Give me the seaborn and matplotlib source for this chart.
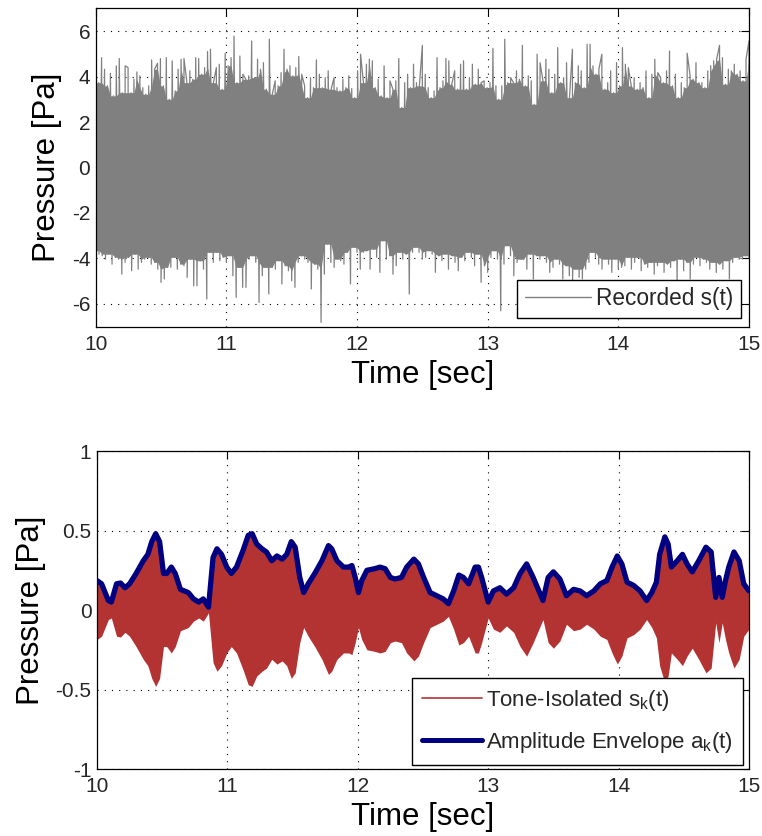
import numpy as np
import pandas as pd
import matplotlib
matplotlib.use("Agg")
import matplotlib.pyplot as plt
from matplotlib.lines import Line2D
import seaborn as sns

# ---------------- data ----------------
# Top panel: recorded pressure s(t), upper and lower excursions (Pa), 10..15 s
upper_peaks = [
    4.9, 3.73, 4.83, 4.32, 3.59, 4.14, 3.15, 4.47, 4.79, 3.29, 4.47, 4.39, 3.29, 3.88, 4.2, 4.03,
    3.51, 3.22, 3.59, 4.73, 4.32, 4.58, 4.79, 3.59, 4.83, 3.0, 4.69, 3.37, 4.32, 4.76, 4.79, 3.73,
    4.25, 3.88, 4.83, 4.79, 4.1, 4.39, 5.1, 5.2, 3.73, 4.39, 4.54, 3.44, 5.02, 4.47, 4.83, 5.78,
    3.73, 4.9, 4.1, 3.88, 4.03,
    5.56, 3.95, 4.76, 4.32, 4.61, 3.44, 5.64, 3.22, 3.81, 3.59, 4.17, 5.2, 4.32, 4.47, 4.03, 4.39,
    4.88, 4.1, 3.59, 3.07, 3.95, 3.51, 4.73, 4.1, 3.51, 3.95, 4.25, 3.44, 3.95, 3.51, 3.37, 3.88,
    3.51, 4.03, 3.47, 3.07, 4.25, 4.98, 3.73, 4.54, 4.76, 4.69, 3.51, 3.88, 3.15, 4.47, 3.07, 3.81,
    3.44, 3.81, 4.79, 2.64, 3.73, 4.1, 3.51, 4.54,
    3.73, 3.59, 5.37, 4.1, 3.51, 3.07, 3.37, 4.83, 3.51, 3.81, 4.79, 4.69, 3.66, 4.25, 3.44, 4.54,
    4.69, 3.44, 3.95, 4.54, 3.66, 4.32, 3.73, 3.81, 3.51, 3.73, 5.24, 3.59, 3.0, 3.59, 5.64, 3.73,
    3.95, 3.73, 4.25, 3.88, 5.37, 3.59, 4.03, 3.81, 2.78, 4.98, 4.61, 3.81, 4.76, 4.32, 3.29, 4.1,
    5.27, 3.73, 3.95, 4.61, 3.07, 5.2, 3.73, 4.47, 4.25, 3.51, 5.42,
    5.42, 4.47, 4.1, 4.32, 4.98, 3.44, 3.73, 4.25, 3.29, 4.61, 3.59, 5.27, 4.54, 4.39, 3.59, 3.95,
    3.44, 3.73, 3.51, 4.25, 3.07, 4.1, 4.76, 4.17, 3.95, 3.73, 4.25, 5.12, 3.59, 4.1, 3.07, 3.73,
    3.51, 5.02, 4.03, 3.88, 4.61, 3.73, 3.73, 3.51, 4.25, 4.47, 4.69, 4.76, 5.37, 4.83, 3.66, 4.32,
    4.25, 4.54, 4.1, 4.25, 3.81, 4.76, 5.56,
]
lower_peaks = [
    -3.66, -3.81, -3.88, -4.03, -3.81, -4.25, -3.95, -4.03, -4.69, -4.17, -3.95, -4.54, -3.81,
    -4.47, -4.17, -4.03, -3.95, -4.25, -4.17, -4.47, -5.05, -4.9, -4.39, -4.39, -3.95, -4.47,
    -4.25, -4.32, -4.83, -4.03, -5.2, -5.2, -4.1, -4.47, -5.78, -3.73, -4.17, -3.73, -4.1, -3.95,
    -4.17, -3.88, -4.76, -5.71, -4.39, -5.27, -5.27, -4.03, -3.88,
    -4.17, -5.93, -4.76, -4.39, -5.56, -4.39, -4.47, -4.1, -5.12, -4.32, -4.54, -4.98, -5.27,
    -4.17, -3.88, -4.03, -4.17, -5.34, -4.25, -4.47, -6.81, -4.69, -3.37, -4.17, -4.39, -4.03,
    -4.1, -4.25, -3.73, -5.12, -3.51, -3.73, -4.47, -3.73, -3.66, -4.47, -3.59, -3.95, -4.61,
    -3.22, -4.03, -3.88, -4.69, -4.32, -3.73, -4.03, -3.81, -5.56, -3.73, -3.51, -3.73, -4.03,
    -3.95,
    -3.66, -3.81, -4.61, -3.88, -4.1, -3.81, -4.47, -3.88, -4.17, -4.54, -3.95, -4.1, -3.73,
    -3.95, -4.32, -3.81, -5.05, -4.32, -4.61, -3.95, -3.66, -4.03, -6.3, -4.25, -3.44, -3.88,
    -4.76, -4.17, -4.03, -4.03, -4.47, -3.81, -4.9, -3.88, -4.03, -3.88, -4.17, -4.61, -4.39,
    -4.03, -4.25, -4.9, -4.32, -4.76, -4.98, -4.47, -4.83, -4.9, -4.47, -4.17,
    -3.73, -3.95, -4.25, -4.47, -4.03, -4.25, -4.61, -4.03, -4.47, -4.39, -4.32, -3.95, -4.47,
    -4.17, -3.95, -4.54, -4.25, -4.39, -4.17, -4.69, -4.32, -4.17, -4.61, -4.25, -4.39, -4.1,
    -5.05, -4.03, -4.54, -4.17, -4.9, -4.25, -3.95, -4.32, -4.03, -4.17, -4.47, -4.17, -4.61,
    -4.25, -4.47, -4.1, -4.9, -4.17, -3.95, -4.03, -4.03, -3.88, -3.95,
]

# Bottom panel: amplitude envelope a_k(t) of the tone-isolated signal
env_time = [
    10.0, 10.035, 10.087, 10.11, 10.15, 10.18, 10.215, 10.25, 10.30, 10.355,
    10.39, 10.42, 10.45, 10.48, 10.51, 10.535, 10.57, 10.60, 10.64, 10.70,
    10.74, 10.78, 10.815, 10.855, 10.89, 10.92, 10.955, 10.995, 11.03, 11.07,
    11.12, 11.16, 11.19, 11.225, 11.265, 11.30, 11.34, 11.38, 11.42, 11.455,
    11.49, 11.52, 11.555, 11.585, 11.62, 11.67, 11.725, 11.775, 11.80, 11.84,
    11.89, 11.93, 11.955, 11.98, 12.005, 12.03, 12.07, 12.13, 12.17, 12.21,
    12.25, 12.285, 12.335, 12.375, 12.43, 12.465, 12.505, 12.555, 12.605, 12.655,
    12.695, 12.735, 12.775, 12.81, 12.85, 12.90, 12.925, 12.95, 13.0, 13.04,
    13.09, 13.14, 13.195, 13.245, 13.295, 13.345, 13.42, 13.46, 13.50, 13.55,
    13.60, 13.655, 13.705, 13.755, 13.81, 13.86, 13.91, 13.95, 13.99, 14.025,
    14.065, 14.115, 14.165, 14.215, 14.255, 14.29, 14.315, 14.355, 14.38, 14.405,
    14.45, 14.49, 14.525, 14.565, 14.615, 14.67, 14.71, 14.745, 14.77, 14.795,
    14.82, 14.845, 14.885, 14.925, 14.96, 15.0,
]
env_amp = [
    0.185, 0.165, 0.06, 0.05, 0.165, 0.17, 0.14, 0.165, 0.23, 0.31,
    0.35, 0.43, 0.48, 0.43, 0.23, 0.23, 0.27, 0.23, 0.13, 0.11,
    0.07, 0.05, 0.07, 0.018, 0.33, 0.385, 0.35, 0.27, 0.23, 0.27,
    0.375, 0.47, 0.48, 0.415, 0.385, 0.365, 0.31, 0.34, 0.32, 0.35,
    0.43, 0.395, 0.205, 0.11, 0.165, 0.23, 0.31, 0.405, 0.385, 0.31,
    0.27, 0.27, 0.28, 0.205, 0.11, 0.185, 0.25, 0.26, 0.27, 0.26,
    0.205, 0.195, 0.205, 0.27, 0.32, 0.29, 0.205, 0.11, 0.09, 0.07,
    0.04, 0.12, 0.22, 0.205, 0.165, 0.27, 0.27, 0.205, 0.05, 0.12,
    0.14, 0.10, 0.14, 0.23, 0.29, 0.205, 0.06, 0.205, 0.24, 0.195,
    0.09, 0.13, 0.12, 0.09, 0.12, 0.165, 0.185, 0.27, 0.34, 0.29,
    0.175, 0.155, 0.12, 0.06, 0.11, 0.175, 0.35, 0.46, 0.415, 0.27,
    0.31, 0.35, 0.29, 0.24, 0.31, 0.395, 0.365, 0.08, 0.205, 0.08,
    0.185, 0.27, 0.365, 0.31, 0.165, 0.12,
]

x_ticks = [10, 11, 12, 13, 14, 15]
top_yticks = [-6, -4, -2, 0, 2, 4, 6]
bot_yticks = [-1, -0.5, 0, 0.5, 1]
bot_ytick_labels = ["-1", "-0.5", "0", "0.5", "1"]
top_label = "Recorded s(t)"
bot_labels = [r"Tone-Isolated s$_{\mathrm{k}}$(t)", r"Amplitude Envelope a$_{\mathrm{k}}$(t)"]

# ---------------- style ----------------
sns.set_theme(style="white")
plt.rcParams["font.family"] = ["Liberation Sans", "DejaVu Sans"]
plt.rcParams["mathtext.fontset"] = "custom"
plt.rcParams["mathtext.rm"] = "Liberation Sans"
plt.rcParams["mathtext.it"] = "Liberation Sans"
plt.rcParams["axes.unicode_minus"] = False

GRAY = "#808080"
RED = "#B33333"
NAVY = "#000080"

fig = plt.figure(figsize=(7.62, 8.36), dpi=100)
ax1 = fig.add_axes([0.1256, 0.6092, 0.8573, 0.3809])
ax2 = fig.add_axes([0.1273, 0.0801, 0.8556, 0.3804])

# ---------------- top panel ----------------
t_up = np.linspace(10, 15, len(upper_peaks))
t_lo = np.linspace(10, 15, len(lower_peaks))
# dense core of the oscillation: local minimum excursion of neighbouring samples
core_up = pd.Series(upper_peaks).rolling(3, center=True, min_periods=1).min().to_numpy()
core_lo = pd.Series(lower_peaks).rolling(3, center=True, min_periods=1).max().to_numpy()
ax1.fill_between(t_up, 0, core_up, color=GRAY, lw=0, zorder=2)
ax1.fill_between(t_lo, core_lo, 0, color=GRAY, lw=0, zorder=2)

df_top = pd.DataFrame({
    "t": np.concatenate([t_up, t_lo]),
    "p": np.concatenate([upper_peaks, lower_peaks]),
}).sort_values("t", kind="stable").reset_index(drop=True)
sns.lineplot(data=df_top, x="t", y="p", sort=False, estimator=None,
             color=GRAY, lw=0.9, ax=ax1, legend=False, zorder=2)

# ---------------- bottom panel ----------------
env_t = np.array(env_time)
env_a = np.array(env_amp)
ax2.fill_between(env_t, -env_a, env_a, color=RED, lw=0, zorder=2)
df_env = pd.DataFrame({"t": env_t, "a": env_a})
sns.lineplot(data=df_env, x="t", y="a", sort=False, estimator=None,
             color=NAVY, lw=3.8, ax=ax2, legend=False, zorder=3)

# ---------------- axes formatting ----------------
for ax in (ax1, ax2):
    ax.set_xlim(10, 15)
    ax.set_xticks(x_ticks)
    ax.set_xticklabels([str(v) for v in x_ticks])
    ax.grid(True, color="black", linestyle=(0, (1, 5.5)), lw=0.8)
    ax.set_axisbelow(True)
    ax.tick_params(direction="in", top=True, right=True, length=6, width=0.8,
                   color="black", labelsize=15, labelcolor="#262626")
    ax.tick_params(axis="x", pad=6)
    ax.tick_params(axis="y", pad=4)
    for s in ax.spines.values():
        s.set_color("black")
        s.set_linewidth(0.9)
    ax.set_xlabel("Time [sec]", fontsize=22.5, labelpad=4, color="black")
    ax.set_ylabel("Pressure [Pa]", fontsize=22.5, labelpad=7, color="black")

ax1.set_ylim(-7, 7)
ax1.set_yticks(top_yticks)
ax1.set_yticklabels([str(v) for v in top_yticks])
ax2.set_ylim(-1, 1)
ax2.set_yticks(bot_yticks)
ax2.set_yticklabels(bot_ytick_labels)

leg1 = ax1.legend(handles=[Line2D([0], [0], color=GRAY, lw=1.0)], labels=[top_label],
                  loc="lower right", bbox_to_anchor=(0.988, 0.027), borderaxespad=0,
                  frameon=True, fancybox=False, framealpha=1, edgecolor="black",
                  fontsize=16.3, handlelength=2.9, handletextpad=0.25, borderpad=0.34)
leg1.get_frame().set_linewidth(1.0)
leg1.set_zorder(10)

leg2 = ax2.legend(handles=[Line2D([0], [0], color=RED, lw=1.2),
                           Line2D([0], [0], color=NAVY, lw=3.6)],
                  labels=bot_labels,
                  loc="lower right", bbox_to_anchor=(0.991, 0.013), borderaxespad=0,
                  frameon=True, fancybox=False, framealpha=1, edgecolor="black",
                  fontsize=16, handlelength=2.7, handletextpad=0.2, borderpad=0.45,
                  labelspacing=0.75)
leg2.get_frame().set_linewidth(1.0)
leg2.set_zorder(10)

fig.savefig("out.png", dpi=100)
